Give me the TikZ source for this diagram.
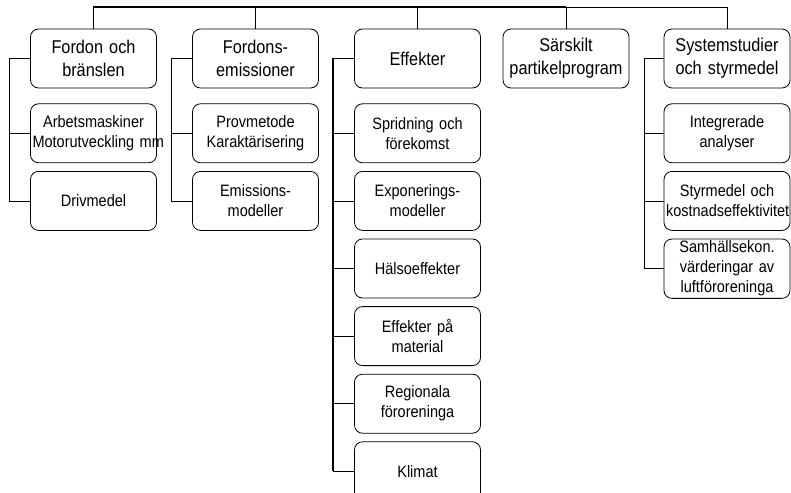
\documentclass[tikz,border=0pt]{standalone}
\usepackage{fontspec}
\setmainfont{Liberation Sans}[FakeStretch=0.88]
\usetikzlibrary{positioning}
\hyphenpenalty=10000

\begin{document}
\begin{tikzpicture}[x=1pt,y=-1pt,
    node distance=7.8pt,
    area/.style={draw=black,line width=0.8pt,rounded corners=8pt,fill=white,
      minimum width=126pt,minimum height=59pt,text width=122pt,inner sep=2pt,
      align=center,font=\fontsize{18.5}{23}\selectfont},
    topic/.style={area,font=\fontsize{16.5}{20}\selectfont},
    bus/.style={line width=1.5pt},
    link/.style={line width=0.8pt}
  ]
  \useasboundingbox (0,0) rectangle (791,492);
  \coordinate (bar) at (0,7);
  % programomraden
  \node [area] (fob) at (93.5,58.5) {Fordon och\\bränslen};
  \node [area] (fem) at (255.5,58.5) {Fordons-\\emissioner};
  \node [area] (eff) at (417.5,58.5) {Effekter};
  \node [area] (par) at (566,58.5) {Särskilt\\partikelprogram};
  \node [area] (sys) at (727,58.5) {Systemstudier\\och styrmedel};
  % delprojekt
  \node [topic,below=15pt of fob] (arb) {Arbetsmaskiner\\Motorutveckling~mm};
  \node [topic,below=of arb] (drv) {Drivmedel};
  \node [topic,below=15pt of fem] (prv) {Provmetode\\Karaktärisering};
  \node [topic,below=of prv] (emm) {Emissions-\\modeller};
  \node [topic,below=15pt of eff] (spr) {Spridning och\\förekomst};
  \node [topic,below=of spr] (exp) {Exponerings-\\modeller};
  \node [topic,below=of exp] (hal) {Hälsoeffekter};
  \node [topic,below=of hal] (mat) {Effekter på\\material};
  \node [topic,below=of mat] (reg) {Regionala\\föroreninga};
  \node [topic,below=of reg] (kli) {Klimat};
  \node [topic,below=15pt of sys] (int) {Integrerade\\analyser};
  \node [topic,below=of int] (kos) {Styrmedel och\\kostnadseffektivitet};
  \node [topic,below=of kos] (sam) {Samhällsekon.\\värderingar av\\luftföroreninga};
  % ledningar
  \draw [bus] (fob.north) |- (bar -| par.north);
  \draw [link] (bar -| par.north) -| (sys.north);
  \draw [link] (fem.north) -- (fem.north |- bar);
  \draw [link] (eff.north) -- (eff.north |- bar);
  \draw [link] (par.north) -- (par.north |- bar);
  \draw [link] (fob.west) -- ++(-21,0) coordinate (r1) -- (r1 |- drv.west);
  \foreach \n in {arb,drv}
    \draw [link] (r1 |- \n.west) -- (\n.west);
  \draw [link] (fem.west) -- ++(-21,0) coordinate (r2) -- (r2 |- emm.west);
  \foreach \n in {prv,emm}
    \draw [link] (r2 |- \n.west) -- (\n.west);
  \draw [bus] (eff.west) -- ++(-21,0) coordinate (r3) -- (r3 |- kli.west);
  \foreach \n in {spr,exp,hal,mat,reg,kli}
    \draw [link] (r3 |- \n.west) -- (\n.west);
  \draw [link] (sys.west) -- ++(-19,0) coordinate (r5) -- (r5 |- sam.west);
  \foreach \n in {int,kos,sam}
    \draw [link] (r5 |- \n.west) -- (\n.west);
\end{tikzpicture}
\end{document}
